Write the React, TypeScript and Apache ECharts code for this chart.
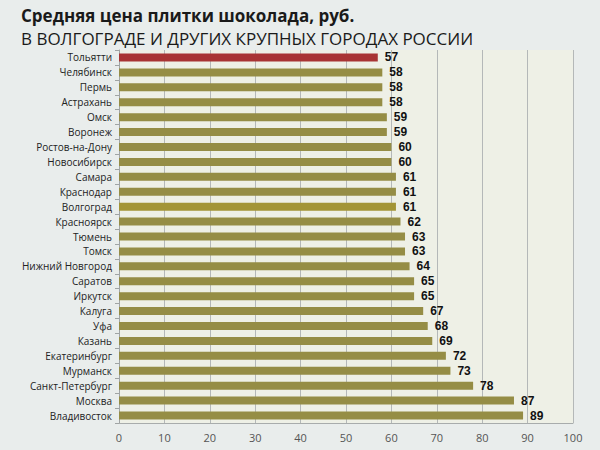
import React, { useEffect, useRef } from "react";
import * as echarts from "echarts";

const cities = [
  "Тольятти", "Челябинск", "Пермь", "Астрахань", "Омск", "Воронеж",
  "Ростов-на-Дону", "Новосибирск", "Самара", "Краснодар", "Волгоград",
  "Красноярск", "Тюмень", "Томск", "Нижний Новгород", "Саратов", "Иркутск",
  "Калуга", "Уфа", "Казань", "Екатеринбург", "Мурманск", "Санкт-Петербург",
  "Москва", "Владивосток",
];
const prices = [57, 58, 58, 58, 59, 59, 60, 60, 61, 61, 61, 62, 63, 63, 64, 65, 65, 67, 68, 69, 72, 73, 78, 87, 89];
const titleText = "Средняя цена плитки шоколада, руб.";
const subtitleText = "В ВОЛГОГРАДЕ И ДРУГИХ КРУПНЫХ ГОРОДАХ РОССИИ";

const OLIVE = "#958d45";
const RED = "#a83434";
const GOLD = "#a39536";

export default function App() {
  const ref = useRef<HTMLDivElement>(null);
  useEffect(() => {
    if (!ref.current) return;
    const chart = echarts.init(ref.current, undefined, { renderer: "svg" });
    const data = prices.map((v, i) => ({
      value: v,
      itemStyle: { color: i === 0 ? RED : cities[i] === "Волгоград" ? GOLD : OLIVE },
    }));
    chart.setOption({
      animation: false,
      backgroundColor: "#e9edec",
      textStyle: { fontFamily: "Open Sans" },
      title: [
        {
          text: titleText,
          left: 16,
          top: 2,
          textStyle: { fontFamily: "Open Sans", fontWeight: "bold", fontSize: 17, color: "#1a1a1a" },
        },
        {
          text: subtitleText,
          left: 16,
          top: 25,
          textStyle: { fontFamily: "Open Sans", fontWeight: "normal", fontSize: 17, color: "#1a1a1a" },
        },
      ],
      grid: {
        left: 119,
        right: 27,
        top: 50,
        bottom: 27,
        show: true,
        backgroundColor: "#eef0e6",
        borderWidth: 0,
      },
      xAxis: {
        type: "value",
        min: 0,
        max: 100,
        interval: 10,
        axisLine: { show: true, lineStyle: { color: "#a8acac" } },
        axisTick: { show: false },
        splitLine: { show: true, lineStyle: { color: "#b4b8b8", width: 1 } },
        axisLabel: { color: "#555", fontSize: 11, margin: 9, fontFamily: "Open Sans" },
      },
      yAxis: {
        type: "category",
        data: cities,
        inverse: true,
        axisLine: { show: true, lineStyle: { color: "#a0a4a4" } },
        axisTick: { show: true, length: 4, lineStyle: { color: "#a0a4a4" } },
        axisLabel: { color: "#222", fontSize: 10, margin: 7, fontFamily: "Open Sans", lineHeight: 12 },
      },
      series: [
        {
          type: "bar",
          data,
          barWidth: 8,
          label: {
            show: true,
            position: "right",
            distance: 7,
            color: "#111",
            fontWeight: "bold",
            fontSize: 12,
            lineHeight: 12,
            fontFamily: "Liberation Sans",
          },
        },
      ],
    });
    return () => chart.dispose();
  }, []);
  return <div ref={ref} style={{ width: 600, height: 450, position: "absolute", left: 0, top: 0 }} />;
}
